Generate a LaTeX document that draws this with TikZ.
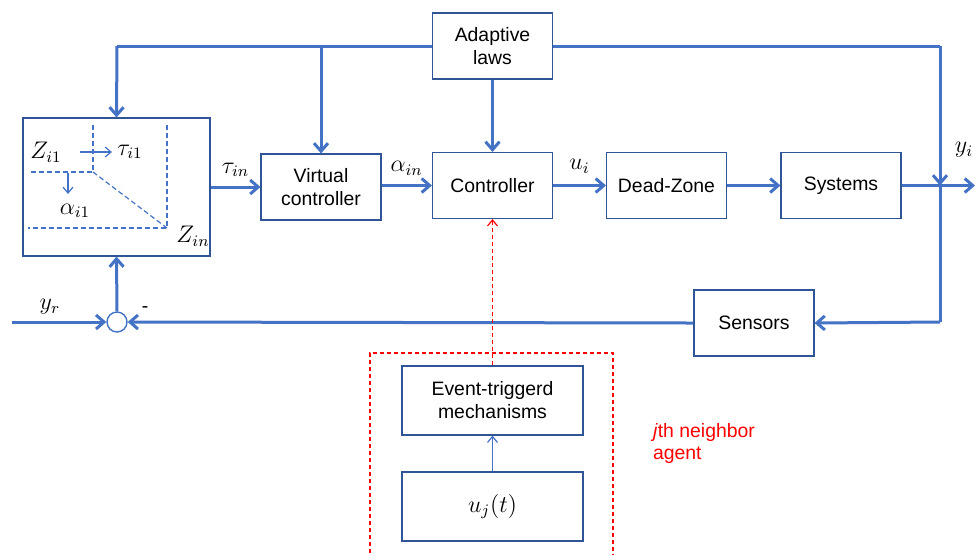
\documentclass[tikz,border=0pt]{standalone}
\usepackage{fontspec}
\setmainfont{Liberation Sans}
\usetikzlibrary{arrows.meta}
\definecolor{lblue}{HTML}{4472C4}
\definecolor{bblue}{HTML}{2F5597}
\definecolor{mred}{HTML}{FF0000}
\begin{document}
\begin{tikzpicture}[x=0.5pt,y=-0.5pt,
  blk/.style={draw=bblue,line width=0.55pt,fill=white,minimum width=60pt,minimum height=33pt,inner sep=0pt,align=center,font=\fontsize{9.7}{11.5}\selectfont},
  main/.style={draw=lblue,line width=1.5pt,-{Straight Barb[length=4pt,width=7pt]}},
  mainl/.style={draw=lblue,line width=1.5pt},
  thin/.style={draw=lblue,line width=0.6pt,-{Straight Barb[length=3pt,width=5pt]}},
  dsh/.style={draw=lblue,line width=0.6pt,dash pattern=on 2.5pt off 1.5pt},
  lab/.style={font=\fontsize{9.7}{11}\selectfont},
  mlab/.style={font=\fontsize{11.5}{13}\selectfont}]
\useasboundingbox (0,0) rectangle (975,554);
% boxes
\node[blk] (adapt) at (492.5,46) {Adaptive\\laws};
\node[blk] (vc) at (321,187) {Virtual\\controller};
\node[blk] (ctrl) at (492.5,185.5) {Controller};
\node[blk] (dz) at (666.5,185.5) {Dead-Zone};
\node[blk] (sys) at (841,185.5) {Systems};
\node[blk] (sens) at (754,323) {Sensors};
\node[draw=bblue,line width=0.55pt,minimum width=93.5pt,minimum height=69pt,inner sep=0pt] (lbox) at (116.5,187) {};
\node[draw=lblue,line width=0.7pt,circle,minimum size=10pt,inner sep=0pt,fill=white] (sum) at (117,322) {};
% red dashed region
\draw[mred,line width=0.6pt,dash pattern=on 2pt off 1.5pt] (370,560) -- (370,353) -- (613,353) -- (613,560);
\node[blk,minimum width=90.5pt,minimum height=34.5pt] (ev) at (492.5,400.5) {Event-triggerd\\mechanisms};
\node[blk,minimum width=90.5pt,minimum height=34.5pt,font=\fontsize{11.5}{13}\selectfont] (uj) at (492.5,506.5) {$u_j(t)$};
\node[lab,text=mred,align=left,anchor=north west] (jth) at (646,416) {\textit{j}th neighbor\\agent};
% inside left box
\draw[dsh] (93,125) -- (93,172) -- (28,172);
\draw[dsh] (93,172) -- (167,228);
\draw[dsh] (167,125) -- (167,228) -- (28,228);
\node[mlab] (zi1) at (46,152) {$Z_{i1}$};
\node[mlab] (ti1) at (130,152) {$\tau_{i1}$};
\node[mlab] (ai1) at (75,211) {$\alpha_{i1}$};
\node[mlab] (zin) at (193,236) {$Z_{in}$};
\coordinate (a1s) at (80,152); \coordinate (a1e) at (112,152);
\draw[thin] (a1s) -- (a1e);
\coordinate (a2s) at (68,173); \coordinate (a2e) at (68,194);
\draw[thin] (a2s) -- (a2e);
% top bus
\coordinate (tl) at (117,46);
\coordinate (tv) at (321,46);
\coordinate (tr) at (940,46);
\coordinate (jn) at (940,185.5);
\coordinate (fb) at (940,322);
\coordinate (outr) at (975,185.5);
\coordinate (yrs) at (12,322);
\draw[mainl] (adapt.west) -- (tl);
\draw[mainl] (adapt.east) -- (tr);
\draw[main] (tl) -- (lbox.north);
\draw[main] (tv) -- (vc.north);
\draw[main] (tr) -- (jn);
\draw[main] (adapt.south) -- (ctrl.north);
% main chain
\draw[main] (lbox.east|-vc) -- (vc.west) node[midway,above=1pt,mlab] {$\tau_{in}$};
\draw[main] (vc.east|-ctrl) -- (ctrl.west) node[midway,above=1pt,mlab] {$\alpha_{in}$};
\draw[main] (ctrl.east) -- (dz.west) node[midway,above=2pt,mlab] {$u_i$};
\draw[main] (dz.east) -- (sys.west);
\draw[main] (sys.east) -- (outr);
\node[mlab] (yi) at (964,150) {$y_i$};
% feedback
\draw[mainl] (jn) -- (fb);
\draw[main] (fb) -- (sens.east);
\draw[main] (sens.west) -- (sum.east);
\node[lab] (minus) at (145,310) {-};
\draw[main] (yrs) -- (sum.west);
\node[mlab] (yr) at (50,307) {$y_r$};
\draw[main] (sum.north) -- (lbox.south);
% event
\draw[mred,line width=0.6pt,dash pattern=on 2pt off 1.5pt,-{Straight Barb[length=3pt,width=5pt]}] (ev.north) -- (ctrl.south);
\draw[thin] (uj.north) -- (ev.south);
\end{tikzpicture}
\end{document}
